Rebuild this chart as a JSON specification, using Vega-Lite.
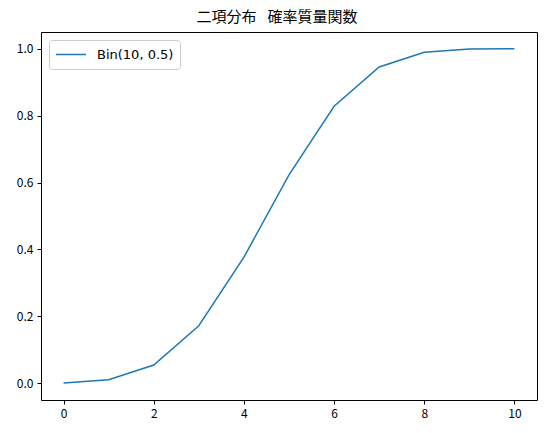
{
  "$schema": "https://vega.github.io/schema/vega-lite/v6.json",
  "width": 496,
  "height": 368,
  "autosize": {"type": "none"},
  "padding": {"left": 41, "top": 32, "right": 9, "bottom": 33},
  "background": "white",
  "title": {
    "text": "二項分布\u2002 確率質量関数",
    "font": "Noto Sans CJK JP",
    "fontSize": 15,
    "fontWeight": "normal",
    "color": "black",
    "offset": 7,
    "dx": -12
  },
  "config": {
    "view": {"stroke": "black", "strokeWidth": 1},
    "axis": {
      "grid": false,
      "domain": false,
      "tickColor": "black",
      "tickSize": 4,
      "labelFont": "Noto Sans CJK JP",
      "labelFontSize": 12,
      "labelColor": "black",
      "labelPadding": 4,
      "title": null
    }
  },
  "data": {
    "values": [
      {"k": 0, "p": 0.000977, "series": "Bin(10, 0.5)"},
      {"k": 1, "p": 0.010742, "series": "Bin(10, 0.5)"},
      {"k": 2, "p": 0.054688, "series": "Bin(10, 0.5)"},
      {"k": 3, "p": 0.171875, "series": "Bin(10, 0.5)"},
      {"k": 4, "p": 0.376953, "series": "Bin(10, 0.5)"},
      {"k": 5, "p": 0.623047, "series": "Bin(10, 0.5)"},
      {"k": 6, "p": 0.828125, "series": "Bin(10, 0.5)"},
      {"k": 7, "p": 0.945313, "series": "Bin(10, 0.5)"},
      {"k": 8, "p": 0.989258, "series": "Bin(10, 0.5)"},
      {"k": 9, "p": 0.999023, "series": "Bin(10, 0.5)"},
      {"k": 10, "p": 1.0, "series": "Bin(10, 0.5)"}
    ]
  },
  "mark": {"type": "line", "strokeWidth": 1.5},
  "encoding": {
    "x": {
      "field": "k",
      "type": "quantitative",
      "scale": {"domain": [-0.5, 10.5], "nice": false, "zero": false},
      "axis": {"values": [0, 2, 4, 6, 8, 10], "format": "d"}
    },
    "y": {
      "field": "p",
      "type": "quantitative",
      "scale": {"domain": [-0.05, 1.05], "nice": false, "zero": false},
      "axis": {"values": [0, 0.2, 0.4, 0.6, 0.8, 1.0], "format": ".1f"}
    },
    "color": {
      "field": "series",
      "type": "nominal",
      "scale": {"range": ["#1f77b4"]},
      "legend": {
        "title": null,
        "orient": "top-left",
        "offset": 8,
        "symbolType": "stroke",
        "symbolSize": 900,
        "symbolStrokeWidth": 1.5,
        "clipHeight": 17,
        "labelFont": "DejaVu Sans",
        "labelFontSize": 13,
        "labelOffset": 10,
        "labelColor": "black",
        "strokeColor": "#cccccc",
        "fillColor": "white",
        "cornerRadius": 3,
        "padding": 6
      }
    }
  }
}
